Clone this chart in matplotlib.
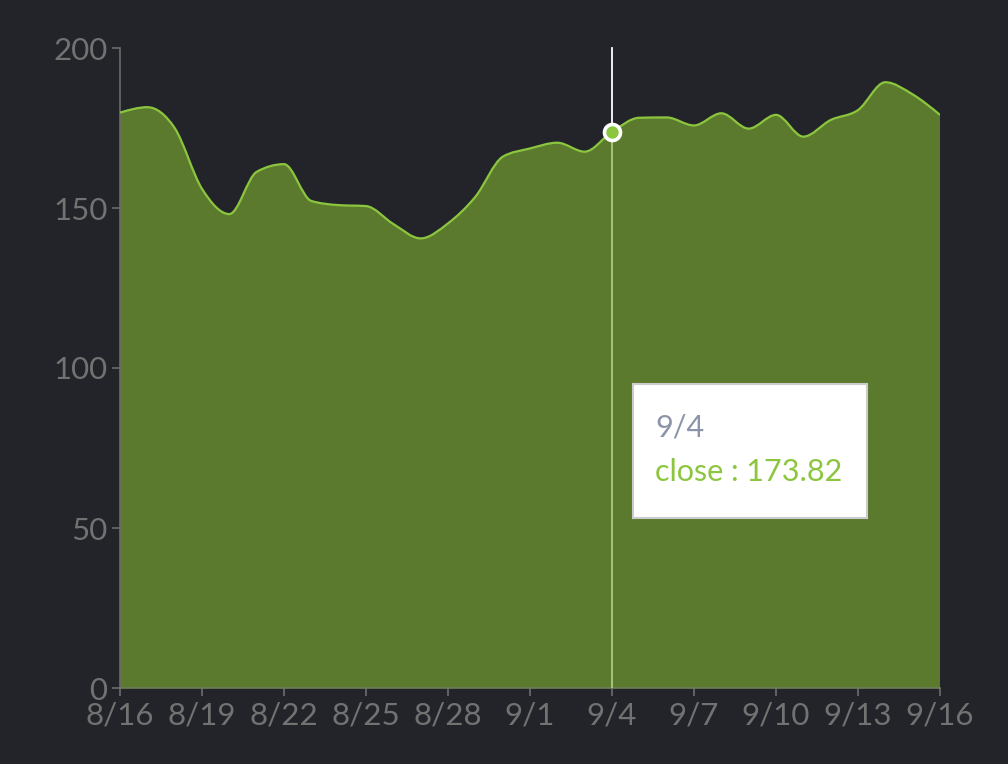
import numpy as np
import matplotlib
matplotlib.use("Agg")
import matplotlib.pyplot as plt
from matplotlib.path import Path
from matplotlib.patches import PathPatch

dates = ["8/16", "8/17", "8/18", "8/19", "8/20", "8/21", "8/22", "8/23", "8/24", "8/25",
         "8/26", "8/27", "8/28", "8/29", "8/30", "9/1", "9/2", "9/3", "9/4", "9/5",
         "9/6", "9/7", "9/8", "9/9", "9/10", "9/11", "9/12", "9/13", "9/14", "9/15", "9/16"]
close = [179.8, 181.5, 175.0, 156.0, 148.1, 161.3, 163.7, 152.2, 150.9, 150.6,
         145.0, 140.5, 145.2, 153.5, 166.0, 168.6, 170.4, 167.6, 173.82, 178.2,
         178.3, 175.8, 179.6, 174.8, 179.1, 172.3, 177.5, 180.6, 189.3, 185.5, 179.1]
tick_labels = ["8/16", "8/19", "8/22", "8/25", "8/28", "9/1", "9/4", "9/7", "9/10", "9/13", "9/16"]
y_ticks = [0, 50, 100, 150, 200]
active_date = "9/4"

BG = "#232429"
FILL = "#5b7a2e"
LINE = "#8cc63f"
AXIS = "#6b6b6b"
TEXT = "#727272"

plt.rcParams['font.family'] = ['Lato', 'DejaVu Sans']

x = np.arange(len(close), dtype=float)
y = np.array(close, dtype=float)


def monotone_tangents(x, y):
    n = len(x)
    t = np.zeros(n)
    for i in range(1, n - 1):
        h0 = x[i] - x[i - 1]
        h1 = x[i + 1] - x[i]
        s0 = (y[i] - y[i - 1]) / h0
        s1 = (y[i + 1] - y[i]) / h1
        p = (s0 * h1 + s1 * h0) / (h0 + h1)
        t[i] = (np.sign(s0) + np.sign(s1)) * min(abs(s0), abs(s1), 0.5 * abs(p))
    h = x[1] - x[0]
    t[0] = (3 * (y[1] - y[0]) / h - t[1]) / 2
    h = x[-1] - x[-2]
    t[-1] = (3 * (y[-1] - y[-2]) / h - t[-2]) / 2
    return t


t = monotone_tangents(x, y)
verts = [(x[0], y[0])]
codes = [Path.MOVETO]
for i in range(len(x) - 1):
    dx = (x[i + 1] - x[i]) / 3
    verts += [(x[i] + dx, y[i] + dx * t[i]), (x[i + 1] - dx, y[i + 1] - dx * t[i + 1]), (x[i + 1], y[i + 1])]
    codes += [Path.CURVE4] * 3
line_path = Path(verts, codes)
area_verts = verts + [(x[-1], 0), (x[0], 0), (x[0], y[0])]
area_codes = codes + [Path.LINETO, Path.LINETO, Path.CLOSEPOLY]
area_path = Path(area_verts, area_codes)

fig = plt.figure(figsize=(10.08, 7.64), dpi=100, facecolor=BG)
ax = fig.add_axes([120 / 1008, 1 - 688 / 764, 820 / 1008, 640 / 764])
ax.set_facecolor(BG)
ax.set_xlim(0, len(close) - 1)
ax.set_ylim(0, 200)

ai = dates.index(active_date)
av = close[ai]
# crosshair
ax.plot([ai, ai], [av, 200], color="white", lw=1.3, zorder=1, clip_on=False)
ax.plot([ai, ai], [0, av], color="#a9cd80", lw=1.3, zorder=3)

ax.add_patch(PathPatch(area_path, facecolor=FILL, edgecolor="none", zorder=2))
ax.add_patch(PathPatch(line_path, facecolor="none", edgecolor=LINE, lw=1.6, zorder=4))

ax.scatter([ai], [av], s=200, color="white", zorder=5, linewidths=0)
ax.scatter([ai], [av], s=80, color=LINE, zorder=6, linewidths=0)

for s in ["top", "right"]:
    ax.spines[s].set_visible(False)
for s in ["left", "bottom"]:
    ax.spines[s].set_color(AXIS)
    ax.spines[s].set_linewidth(1.2)
ax.spines["bottom"].set_color("#6f7d5a")

tick_pos = [dates.index(d) for d in tick_labels]
ax.set_xticks(tick_pos)
ax.set_xticklabels(tick_labels)
ax.set_yticks(y_ticks)
ax.set_yticklabels([str(v) for v in y_ticks])
ax.tick_params(axis="both", colors=AXIS, labelcolor=TEXT, labelsize=22.5, length=6, width=1.2)
ax.tick_params(axis="y", pad=3)
ax.tick_params(axis="x", pad=4)

# tooltip
box_x0, box_y0 = 633 / 1008, 1 - 518 / 764
box_w, box_h = 234 / 1008, 134 / 764
tax = fig.add_axes([box_x0, box_y0, box_w, box_h])
tax.set_xticks([])
tax.set_yticks([])
tax.set_facecolor("white")
for s in tax.spines.values():
    s.set_color("#cccccc")
    s.set_linewidth(1.5)
tax.set_zorder(10)
tax.text(22 / 234, 1 - 43 / 134, active_date, transform=tax.transAxes, fontsize=22,
         color="#8b94a8", va="center", ha="left")
tax.text(22 / 234, 1 - 88 / 134, f"close : {av:.2f}", transform=tax.transAxes, fontsize=22,
         color=LINE, va="center", ha="left")

fig.savefig("out.png", dpi=100, facecolor=BG)
